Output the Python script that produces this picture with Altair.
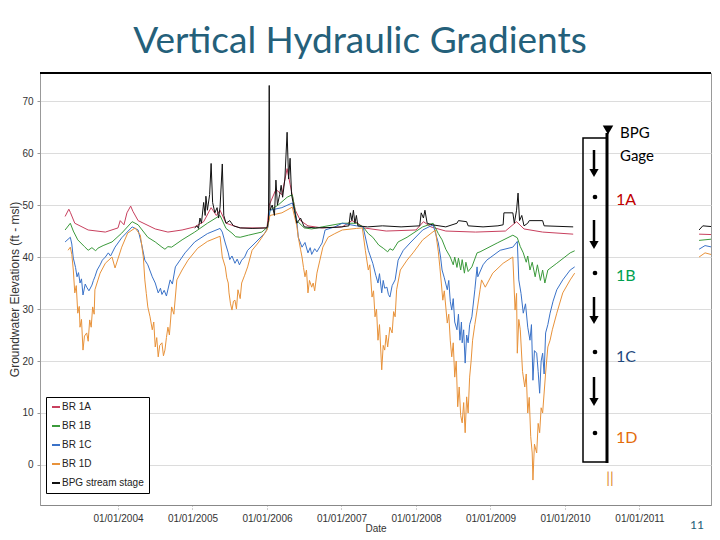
import altair as alt
import pandas as pd

title_text = "Vertical Hydraulic Gradients"
series_names = ["BR 1A", "BR 1B", "BR 1C", "BR 1D", "BPG stream stage"]
series_colors = ["#C8405E", "#3B9A3B", "#3A72C8", "#E8923A", "#111111"]
year_ticks = [2004, 2005, 2006, 2007, 2008, 2009, 2010, 2011]
y_ticks = [0, 10, 20, 30, 40, 50, 60, 70]

# ---------------- BR 1A ----------------
br1a_t = [2003.29, 2003.34, 2003.36, 2003.42, 2003.60, 2003.83, 2004.00, 2004.03, 2004.08, 2004.12,
          2004.17, 2004.20, 2004.27, 2004.50, 2004.67, 2004.86, 2005.03, 2005.15, 2005.25, 2005.32,
          2005.37, 2005.45, 2005.64, 2006.00, 2006.03, 2006.12, 2006.20, 2006.27, 2006.31, 2006.38,
          2006.45, 2006.55, 2006.74, 2007.01, 2007.14, 2007.22, 2007.30, 2007.60, 2008.00, 2008.10,
          2008.20, 2008.40, 2008.80, 2009.20, 2009.35, 2009.45, 2009.70, 2010.11]
br1a_v = [47.8, 49.2, 48.6, 46.5, 45.2, 44.8, 45.6, 47.0, 46.2, 48.5,
          49.8, 48.8, 47.0, 45.4, 44.8, 45.2, 45.8, 46.8, 49.5, 48.0,
          49.0, 46.5, 45.6, 45.6, 50.0, 53.0, 52.0, 57.0, 54.0, 49.0,
          47.0, 46.0, 45.6, 45.8, 47.0, 46.5, 45.6, 45.0, 45.2, 46.8,
          45.8, 45.0, 44.8, 45.0, 46.8, 45.4, 44.8, 44.4]
br1a_tail_t = [2011.80, 2012.01]
br1a_tail_v = [44.4, 44.3]

# ---------------- BR 1B ----------------
br1b_t = [2003.29, 2003.36, 2003.40, 2003.46, 2003.55, 2003.60, 2003.65, 2003.70, 2003.73, 2003.80,
          2003.92, 2004.05, 2004.19, 2004.27, 2004.40, 2004.50, 2004.59, 2004.63, 2004.67, 2004.72,
          2004.86, 2005.03, 2005.20, 2005.37, 2005.45, 2005.53, 2005.58, 2005.64, 2005.75, 2005.93,
          2006.01, 2006.04, 2006.15, 2006.27, 2006.34, 2006.40, 2006.50, 2006.60, 2006.74, 2007.01,
          2007.20, 2007.29, 2007.36, 2007.42, 2007.50, 2007.56, 2007.62, 2007.65, 2007.69, 2007.76,
          2007.88, 2008.09, 2008.23, 2008.30, 2008.35, 2008.40, 2008.46, 2008.50, 2008.52, 2008.55,
          2008.57, 2008.60, 2008.62, 2008.65, 2008.67, 2008.70, 2008.75, 2008.82, 2008.86, 2009.09,
          2009.30, 2009.36, 2009.40, 2009.44, 2009.48, 2009.50, 2009.53, 2009.56, 2009.60, 2009.63,
          2009.67, 2009.70, 2009.73, 2009.77, 2009.89, 2010.07, 2010.13]
br1b_v = [45.2, 46.5, 45.0, 43.3, 42.0, 41.3, 41.8, 41.2, 41.7, 42.2,
          42.9, 44.6, 46.8, 46.2, 43.8, 42.9, 41.9, 41.5, 42.0, 41.9,
          43.3, 44.8, 46.5, 48.0, 45.5, 44.6, 43.9, 43.8, 44.2, 44.8,
          45.8, 49.0, 50.0, 51.5, 52.0, 47.0, 45.6, 45.4, 45.8, 46.5,
          46.5, 45.8, 44.5, 43.8, 42.3, 41.7, 41.0, 41.6, 41.3, 42.9,
          43.8, 45.8, 46.5, 44.5, 43.3, 41.5, 40.0, 38.5, 40.0, 38.0,
          39.8, 37.5, 39.5, 36.9, 39.0, 37.2, 38.1, 40.8, 41.0, 42.7,
          44.2, 43.7, 42.0, 40.8, 39.0, 40.2, 37.5, 39.0, 36.2, 38.5,
          35.5, 37.5, 35.0, 37.5, 38.8, 40.8, 41.2]
br1b_tail_t = [2011.80, 2012.01]
br1b_tail_v = [43.2, 43.5]

# ---------------- BR 1C ----------------
br1c_t = [2003.29, 2003.36, 2003.38, 2003.40, 2003.43, 2003.45, 2003.47, 2003.49, 2003.51, 2003.53,
          2003.56, 2003.58, 2003.61, 2003.65, 2003.67, 2003.69, 2003.72, 2003.76, 2003.79, 2003.83,
          2003.87, 2003.90, 2003.96, 2004.05, 2004.19, 2004.27, 2004.32, 2004.36, 2004.40, 2004.46,
          2004.50, 2004.54, 2004.57, 2004.59, 2004.62, 2004.65, 2004.70, 2004.73, 2004.77, 2004.90,
          2005.03, 2005.20, 2005.37, 2005.40, 2005.44, 2005.48, 2005.50, 2005.53, 2005.57, 2005.60,
          2005.63, 2005.66, 2005.70, 2005.74, 2005.84, 2005.97, 2006.01, 2006.04, 2006.20, 2006.34,
          2006.40, 2006.42, 2006.47, 2006.51, 2006.55, 2006.58, 2006.60, 2006.64, 2006.67, 2006.71,
          2006.74, 2006.78, 2006.91, 2007.01, 2007.20, 2007.29, 2007.36, 2007.42, 2007.46, 2007.49,
          2007.51, 2007.54, 2007.56, 2007.58, 2007.61, 2007.63, 2007.65, 2007.68, 2007.72, 2007.76,
          2007.83, 2007.92, 2008.09, 2008.23, 2008.30, 2008.33, 2008.35, 2008.38, 2008.42, 2008.44,
          2008.46, 2008.48, 2008.50, 2008.52, 2008.55, 2008.57, 2008.59, 2008.61, 2008.62, 2008.64,
          2008.66, 2008.68, 2008.70, 2008.72, 2008.75, 2008.79, 2008.82, 2008.83, 2008.90, 2008.95,
          2009.13, 2009.30, 2009.36, 2009.38, 2009.41, 2009.44, 2009.47, 2009.50, 2009.53, 2009.55,
          2009.57, 2009.59, 2009.62, 2009.64, 2009.66, 2009.68, 2009.70, 2009.72, 2009.74, 2009.77,
          2009.80, 2009.84, 2009.89, 2009.97, 2010.07, 2010.13]
br1c_v = [42.9, 43.8, 42.5, 39.8, 38.0, 36.2, 37.0, 35.0, 35.8, 32.7,
          34.8, 34.2, 33.5, 34.6, 35.5, 36.2, 37.5, 38.5, 39.4, 40.0,
          40.8, 40.2, 41.9, 43.7, 45.8, 45.2, 42.3, 39.4, 38.5, 36.2,
          35.0, 33.1, 34.0, 32.8, 33.6, 32.5, 35.6, 34.8, 38.1, 40.8,
          42.9, 44.5, 45.5, 44.8, 42.7, 40.8, 39.5, 40.2, 38.8, 39.6,
          38.5, 39.4, 40.0, 41.3, 42.7, 44.6, 45.6, 49.0, 49.5, 50.4,
          47.0, 43.8, 41.9, 42.8, 40.8, 41.8, 40.5, 41.6, 41.0, 42.0,
          42.7, 45.2, 45.8, 46.5, 46.0, 45.8, 41.3, 38.8, 36.5, 35.0,
          36.8, 33.1, 35.5, 34.0, 34.2, 32.8, 32.3, 34.5, 35.6, 39.4,
          41.3, 42.7, 45.2, 46.2, 42.7, 40.0, 37.5, 36.0, 33.7, 35.5,
          31.5, 29.8, 32.0, 27.5, 26.0, 29.0, 24.0, 27.5, 23.5, 26.0,
          19.6, 25.0, 23.5, 27.0, 28.5, 33.7, 38.1, 36.2, 38.5, 39.4,
          41.3, 41.9, 43.0, 35.6, 33.0, 29.2, 31.0, 26.5, 24.0, 27.0,
          16.3, 22.0, 21.5, 18.0, 13.8, 20.0, 21.5, 17.5, 25.4, 27.0,
          29.2, 31.5, 33.7, 35.6, 37.5, 38.1]
br1c_tail_t = [2011.80, 2011.88, 2012.01]
br1c_tail_v = [41.5, 42.2, 41.8]

# ---------------- BR 1D ----------------
br1d_t = [2003.33, 2003.36, 2003.38, 2003.40, 2003.42, 2003.44, 2003.46, 2003.48, 2003.49, 2003.51,
          2003.53, 2003.55, 2003.58, 2003.60, 2003.62, 2003.64, 2003.66, 2003.68, 2003.69, 2003.76,
          2003.83, 2003.92, 2003.96, 2004.05, 2004.13, 2004.23, 2004.30, 2004.34, 2004.36, 2004.38,
          2004.40, 2004.43, 2004.46, 2004.48, 2004.50, 2004.52, 2004.54, 2004.56, 2004.59, 2004.61,
          2004.63, 2004.65, 2004.67, 2004.69, 2004.72, 2004.75, 2004.79, 2004.86, 2004.94, 2005.07,
          2005.20, 2005.37, 2005.40, 2005.44, 2005.46, 2005.48, 2005.49, 2005.51, 2005.53, 2005.55,
          2005.57, 2005.59, 2005.61, 2005.64, 2005.66, 2005.70, 2005.74, 2005.80, 2005.88, 2006.00,
          2006.04, 2006.20, 2006.34, 2006.40, 2006.42, 2006.45, 2006.47, 2006.49, 2006.51, 2006.53,
          2006.55, 2006.57, 2006.60, 2006.62, 2006.64, 2006.67, 2006.71, 2006.75, 2006.82, 2006.91,
          2007.01, 2007.20, 2007.28, 2007.32, 2007.36, 2007.38, 2007.41, 2007.43, 2007.45, 2007.47,
          2007.49, 2007.51, 2007.54, 2007.56, 2007.58, 2007.60, 2007.62, 2007.65, 2007.68, 2007.70,
          2007.72, 2007.74, 2007.79, 2007.88, 2007.96, 2008.09, 2008.26, 2008.30, 2008.32, 2008.34,
          2008.36, 2008.38, 2008.42, 2008.44, 2008.46, 2008.48, 2008.50, 2008.52, 2008.54, 2008.56,
          2008.58, 2008.60, 2008.62, 2008.64, 2008.66, 2008.68, 2008.70, 2008.72, 2008.74, 2008.76,
          2008.79, 2008.82, 2008.86, 2008.88, 2008.93, 2009.03, 2009.17, 2009.30, 2009.33, 2009.35,
          2009.36, 2009.38, 2009.40, 2009.43, 2009.46, 2009.48, 2009.50, 2009.52, 2009.54, 2009.56,
          2009.57, 2009.59, 2009.62, 2009.64, 2009.66, 2009.68, 2009.70, 2009.74, 2009.77, 2009.80,
          2009.83, 2009.89, 2009.97, 2010.07, 2010.13]
br1d_v = [41.3, 41.9, 40.5, 37.5, 33.1, 34.5, 29.2, 30.5, 26.5, 28.0,
          22.1, 24.8, 25.4, 23.8, 27.9, 26.5, 30.4, 29.0, 33.7, 36.9,
          38.8, 40.0, 37.9, 41.9, 44.6, 45.6, 44.2, 40.0, 35.6, 33.0,
          30.4, 28.5, 26.0, 27.5, 22.7, 24.5, 20.8, 23.0, 23.5, 21.0,
          22.1, 24.5, 26.5, 25.0, 30.4, 29.0, 35.6, 37.5, 39.4, 41.7,
          43.0, 44.0, 40.0, 38.1, 36.0, 35.0, 33.1, 31.0, 29.8, 31.5,
          31.7, 30.0, 33.7, 32.0, 35.0, 36.5, 38.1, 41.3, 42.7, 45.2,
          48.0, 48.5, 49.6, 46.0, 43.8, 41.5, 40.0, 38.0, 36.2, 37.5,
          33.1, 35.5, 34.2, 35.0, 33.5, 36.9, 39.4, 41.9, 43.8, 44.5,
          45.2, 45.5, 45.6, 41.3, 37.5, 38.5, 32.3, 33.5, 28.5, 30.0,
          24.0, 27.0, 18.3, 23.0, 22.1, 25.0, 22.7, 26.5, 25.4, 29.5,
          28.5, 33.7, 37.5, 39.4, 40.8, 43.3, 45.2, 41.0, 38.1, 35.0,
          31.7, 33.5, 27.3, 29.0, 24.0, 20.8, 23.5, 16.9, 20.0, 11.2,
          15.0, 9.5, 8.1, 12.0, 6.2, 13.1, 10.0, 16.9, 20.0, 24.0,
          27.0, 29.8, 33.7, 35.6, 34.2, 36.9, 38.8, 40.0, 29.8, 33.0,
          21.5, 28.0, 26.0, 18.0, 15.0, 17.5, 10.0, 13.0, 5.5, 2.3,
          -2.9, 4.0, 2.3, 8.0, 6.2, 11.0, 10.0, 17.7, 22.7, 24.0,
          26.0, 29.2, 33.1, 35.6, 36.9]
br1d_tail_t = [2011.80, 2011.88, 2012.01]
br1d_tail_v = [40.0, 40.8, 40.3]

# ---------------- BPG stream stage ----------------
bpg_t = [2005.03, 2005.06, 2005.08, 2005.10, 2005.12, 2005.15, 2005.17, 2005.18, 2005.20, 2005.23,
         2005.25, 2005.27, 2005.30, 2005.33, 2005.35, 2005.37, 2005.40, 2005.42, 2005.45, 2005.50,
         2005.55, 2005.64, 2005.80, 2006.00, 2006.02, 2006.03, 2006.04, 2006.07, 2006.10, 2006.12,
         2006.14, 2006.17, 2006.19, 2006.21, 2006.24, 2006.27, 2006.29, 2006.31, 2006.33, 2006.37,
         2006.40, 2006.45, 2006.50, 2006.65, 2006.90, 2007.00, 2007.10, 2007.12, 2007.14, 2007.16,
         2007.18, 2007.20, 2007.22, 2007.35, 2007.55, 2007.80, 2008.05, 2008.07, 2008.10, 2008.12,
         2008.15, 2008.22, 2008.40, 2008.55, 2008.57, 2008.68, 2008.70, 2008.90, 2009.10, 2009.17,
         2009.18, 2009.30, 2009.32, 2009.35, 2009.37, 2009.39, 2009.42, 2009.45, 2009.50, 2009.52,
         2009.70, 2009.72, 2010.11]
bpg_v = [45.6, 46.0, 45.5, 47.5, 46.5, 50.5, 48.0, 51.7, 49.0, 52.0,
         58.0, 50.5, 48.5, 49.5, 47.5, 49.6, 57.9, 48.0, 46.5, 47.0,
         46.0, 45.6, 45.5, 45.6, 47.0, 73.0, 49.0, 50.0, 48.0, 54.8,
         50.0, 52.0, 53.8, 51.5, 55.0, 64.0, 55.0, 59.0, 52.0, 49.0,
         46.5, 47.5, 45.8, 45.6, 45.7, 45.8, 46.0, 48.5, 47.0, 49.0,
         46.5, 48.0, 46.0, 45.8, 46.0, 45.8, 46.0, 48.5, 47.5, 49.0,
         46.5, 46.2, 45.8, 46.5, 47.0, 46.8, 46.0, 45.8, 46.0, 46.2,
         48.5, 48.5, 46.5, 49.0, 52.3, 47.0, 48.0, 46.0, 46.5, 47.0,
         47.0, 46.0, 45.8]
bpg_tail_t = [2011.80, 2011.85, 2012.01]
bpg_tail_v = [45.2, 46.0, 45.8]


def rows(name, ts, vs, seg):
    return [{"series": name, "year": t, "value": v, "seg": name + "-" + seg} for t, v in zip(ts, vs)]


records = []
records += rows("BR 1A", br1a_t, br1a_v, "a") + rows("BR 1A", br1a_tail_t, br1a_tail_v, "b")
records += rows("BR 1B", br1b_t, br1b_v, "a") + rows("BR 1B", br1b_tail_t, br1b_tail_v, "b")
records += rows("BR 1C", br1c_t, br1c_v, "a") + rows("BR 1C", br1c_tail_t, br1c_tail_v, "b")
records += rows("BR 1D", br1d_t, br1d_v, "a") + rows("BR 1D", br1d_tail_t, br1d_tail_v, "b")
records += rows("BPG stream stage", bpg_t, bpg_v, "a") + rows("BPG stream stage", bpg_tail_t, bpg_tail_v, "b")
df = pd.DataFrame(records)

W, H = 671, 432
AXFONT = "Liberation Sans"

lines = alt.Chart(df).mark_line(strokeWidth=1, clip=True).encode(
    x=alt.X("year:Q",
            scale=alt.Scale(domain=[2002.953, 2011.96], nice=False, zero=False),
            axis=alt.Axis(values=year_ticks, labelExpr="'01/01/' + datum.value", grid=False,
                          domainColor="#888", tickColor="#999", tickDash=[1, 2], tickSize=6,
                          labelPadding=2, labelFontSize=10, labelFont=AXFONT, labelColor="#333",
                          title="Date", titleFontSize=10, titleFont=AXFONT, titleFontWeight="normal",
                          titleColor="#333", titlePadding=0)),
    y=alt.Y("value:Q",
            scale=alt.Scale(domain=[-7.7, 75.4], nice=False, zero=False),
            axis=alt.Axis(values=y_ticks, grid=True, gridColor="#dcdcdc", domainColor="#999",
                          tickColor="#999", tickSize=3, labelPadding=4, labelFontSize=10,
                          labelFont=AXFONT, labelColor="#333",
                          title="Groundwater Elevations (ft - msl)", titleFontSize=12,
                          titleFont=AXFONT, titleFontWeight="normal", titleColor="#333",
                          titlePadding=0)),
    color=alt.Color("series:N",
                    scale=alt.Scale(domain=series_names, range=series_colors),
                    legend=alt.Legend(orient="none", legendX=6, legendY=324, title=None,
                                      strokeColor="black", fillColor="white", padding=5,
                                      symbolType="stroke", symbolSize=64, symbolStrokeWidth=2,
                                      labelFontSize=10, labelFont=AXFONT, labelColor="#222",
                                      rowPadding=9, labelOffset=1, cornerRadius=0)),
    detail="seg:N",
)


def one():
    return alt.Chart(pd.DataFrame({"k": [0]}))


layers = [lines]

# top border
layers.append(one().mark_rule(color="black", strokeWidth=2).encode(
    x=alt.value(0), x2=alt.value(W), y=alt.value(0)))

# slide title
layers.append(one().mark_text(text=title_text, font="Lato", fontSize=37, color="#24607A",
                              align="center", baseline="middle").encode(
    x=alt.value(320), y=alt.value(-31)))

# page number
layers.append(one().mark_text(text="11", font="Lato", fontSize=12, color="#24607A",
                              align="center", baseline="middle").encode(
    x=alt.value(657), y=alt.value(452)))

# well diagram
layers.append(one().mark_rect(fillOpacity=0, stroke="black", strokeWidth=1.5).encode(
    x=alt.value(543), x2=alt.value(567), y=alt.value(65), y2=alt.value(389)))
layers.append(one().mark_rule(color="black", strokeWidth=3).encode(
    x=alt.value(567), y=alt.value(60), y2=alt.value(390)))
layers.append(one().mark_point(shape="triangle-down", filled=True, color="black", size=110,
                               opacity=1).encode(x=alt.value(568), y=alt.value(57)))

for y1, y2 in [(77, 105), (147, 177), (224, 252), (304, 334)]:
    layers.append(one().mark_rule(color="black", strokeWidth=2.5).encode(
        x=alt.value(554), y=alt.value(y1), y2=alt.value(y2 - 6)))
    layers.append(one().mark_point(shape="triangle-down", filled=True, color="black", size=85,
                                   opacity=1).encode(x=alt.value(554), y=alt.value(y2 - 5)))

for yd in [124, 200, 279, 360]:
    layers.append(one().mark_point(shape="circle", filled=True, color="black", size=22,
                                   opacity=1).encode(x=alt.value(555), y=alt.value(yd)))

for txt, yy, col in [("BPG", 60, "black"), ("Gage", 83, "black"), ("1A", 127, "#C00000"),
                     ("1B", 203, "#00A050"), ("1C", 284, "#1F497D"), ("1D", 365, "#E46C0A")]:
    xx = 580 if txt in ("BPG", "Gage") else 576
    fs = 15 if txt in ("BPG", "Gage") else 16
    layers.append(one().mark_text(text=txt, font="Lato", fontSize=fs, color=col,
                                  align="left", baseline="middle").encode(
        x=alt.value(xx), y=alt.value(yy)))

layers.append(one().mark_text(text="||", font="Lato", fontSize=15, color="#E08A30",
                              align="center", baseline="middle").encode(
    x=alt.value(570), y=alt.value(405)))

chart = alt.layer(*layers).properties(
    width=W, height=H,
    padding={"left": 32, "top": 65, "right": 1, "bottom": 31},
    autosize=alt.AutoSizeParams(type="none"),
    background="white",
).configure_view(stroke="#999", strokeWidth=1)

chart.save("out.html", embed_options={"renderer": "svg", "actions": False})
